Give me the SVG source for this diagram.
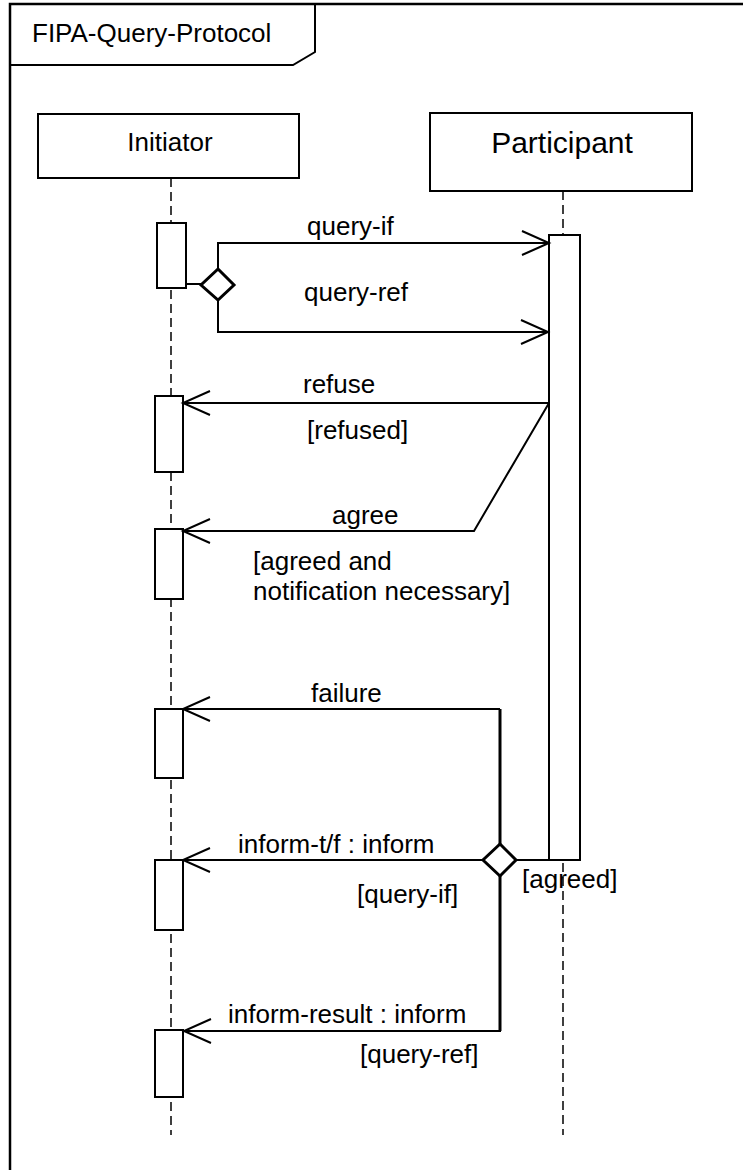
<svg xmlns="http://www.w3.org/2000/svg" width="743" height="1170" viewBox="0 0 743 1170">
<style>
text{font-family:"Liberation Sans",Arial,sans-serif;font-size:26px;fill:#000}
.box{fill:#fff;stroke:#000;stroke-width:2}
.life{stroke:#000;stroke-width:1.5;stroke-dasharray:9,5;fill:none}
.msg{stroke:#000;stroke-width:2;fill:none}
.thick{stroke:#000;stroke-width:3;fill:none}
.dia{fill:#fff;stroke:#000;stroke-width:3}
</style>
<defs>
<marker id="open" markerUnits="userSpaceOnUse" markerWidth="40" markerHeight="40" refX="27" refY="12" orient="auto" overflow="visible">
<path d="M0,0 L27,12 L0,24" fill="none" stroke="#000" stroke-width="2"/>
</marker>
</defs>
<rect width="743" height="1170" fill="#fff"/>
<g id="frame">
<path d="M10,1170 V4 H743" fill="none" stroke="#000" stroke-width="2.5"/>
<path d="M315,4 V52 L293,65 H10" fill="none" stroke="#000" stroke-width="2"/>
<text x="32" y="42">FIPA-Query-Protocol</text>
</g>
<g id="initiator">
<line class="life" x1="171" y1="178" x2="171" y2="1135"/>
<rect class="box" x="38" y="114" width="261" height="64"/>
<text x="170" y="151" text-anchor="middle">Initiator</text>
<rect class="box" x="157" y="223" width="29" height="65"/>
<rect class="box" x="155" y="396" width="28" height="76"/>
<rect class="box" x="155" y="529" width="28" height="70"/>
<rect class="box" x="155" y="709" width="28" height="69"/>
<rect class="box" x="155" y="860" width="28" height="70"/>
<rect class="box" x="155" y="1030" width="28" height="67"/>
</g>
<g id="participant">
<line class="life" x1="563" y1="191" x2="563" y2="1135"/>
<rect class="box" x="430" y="113" width="262" height="78"/>
<text x="562" y="153" text-anchor="middle" style="font-size:30px">Participant</text>
<rect class="box" x="549" y="235" width="31" height="625"/>
</g>
<g id="connectors">
<line class="msg" x1="186" y1="284" x2="201" y2="284"/>
<polygon id="choice1" class="dia" points="218,269 234,285 218,300 201,285"/>
<polyline class="msg" points="218,269 218,243 549,243" marker-end="url(#open)"/>
<polyline class="msg" points="218,300 218,332 548,332" marker-end="url(#open)"/>
<text x="307" y="235">query-if</text>
<text x="304" y="301">query-ref</text>
<line class="msg" x1="549" y1="403" x2="183" y2="403" marker-end="url(#open)"/>
<text x="303" y="393">refuse</text>
<text x="307" y="439">[refused]</text>
<polyline class="msg" points="549,403 474,531 183,531" marker-end="url(#open)"/>
<text x="332" y="524">agree</text>
<text x="253" y="570">[agreed and</text>
<text x="253" y="600">notification necessary]</text>
<polyline class="thick" points="500,844 500,709"/>
<line class="msg" x1="500" y1="709" x2="183" y2="709" marker-end="url(#open)"/>
<text x="311" y="702">failure</text>
<line class="msg" x1="516" y1="860" x2="549" y2="860"/>
<line class="msg" x1="483" y1="860" x2="183" y2="860" marker-end="url(#open)"/>
<polygon id="choice2" class="dia" points="500,844 516,860 500,876 483,860"/>
<text x="238" y="853">inform-t/f : inform</text>
<text x="357" y="903">[query-if]</text>
<text x="522" y="888">[agreed]</text>
<polyline class="thick" points="500,876 500,1031"/>
<line class="msg" x1="501" y1="1031" x2="184" y2="1031" marker-end="url(#open)"/>
<text x="228" y="1023">inform-result : inform</text>
<text x="360" y="1063">[query-ref]</text>
</g>
</svg>
